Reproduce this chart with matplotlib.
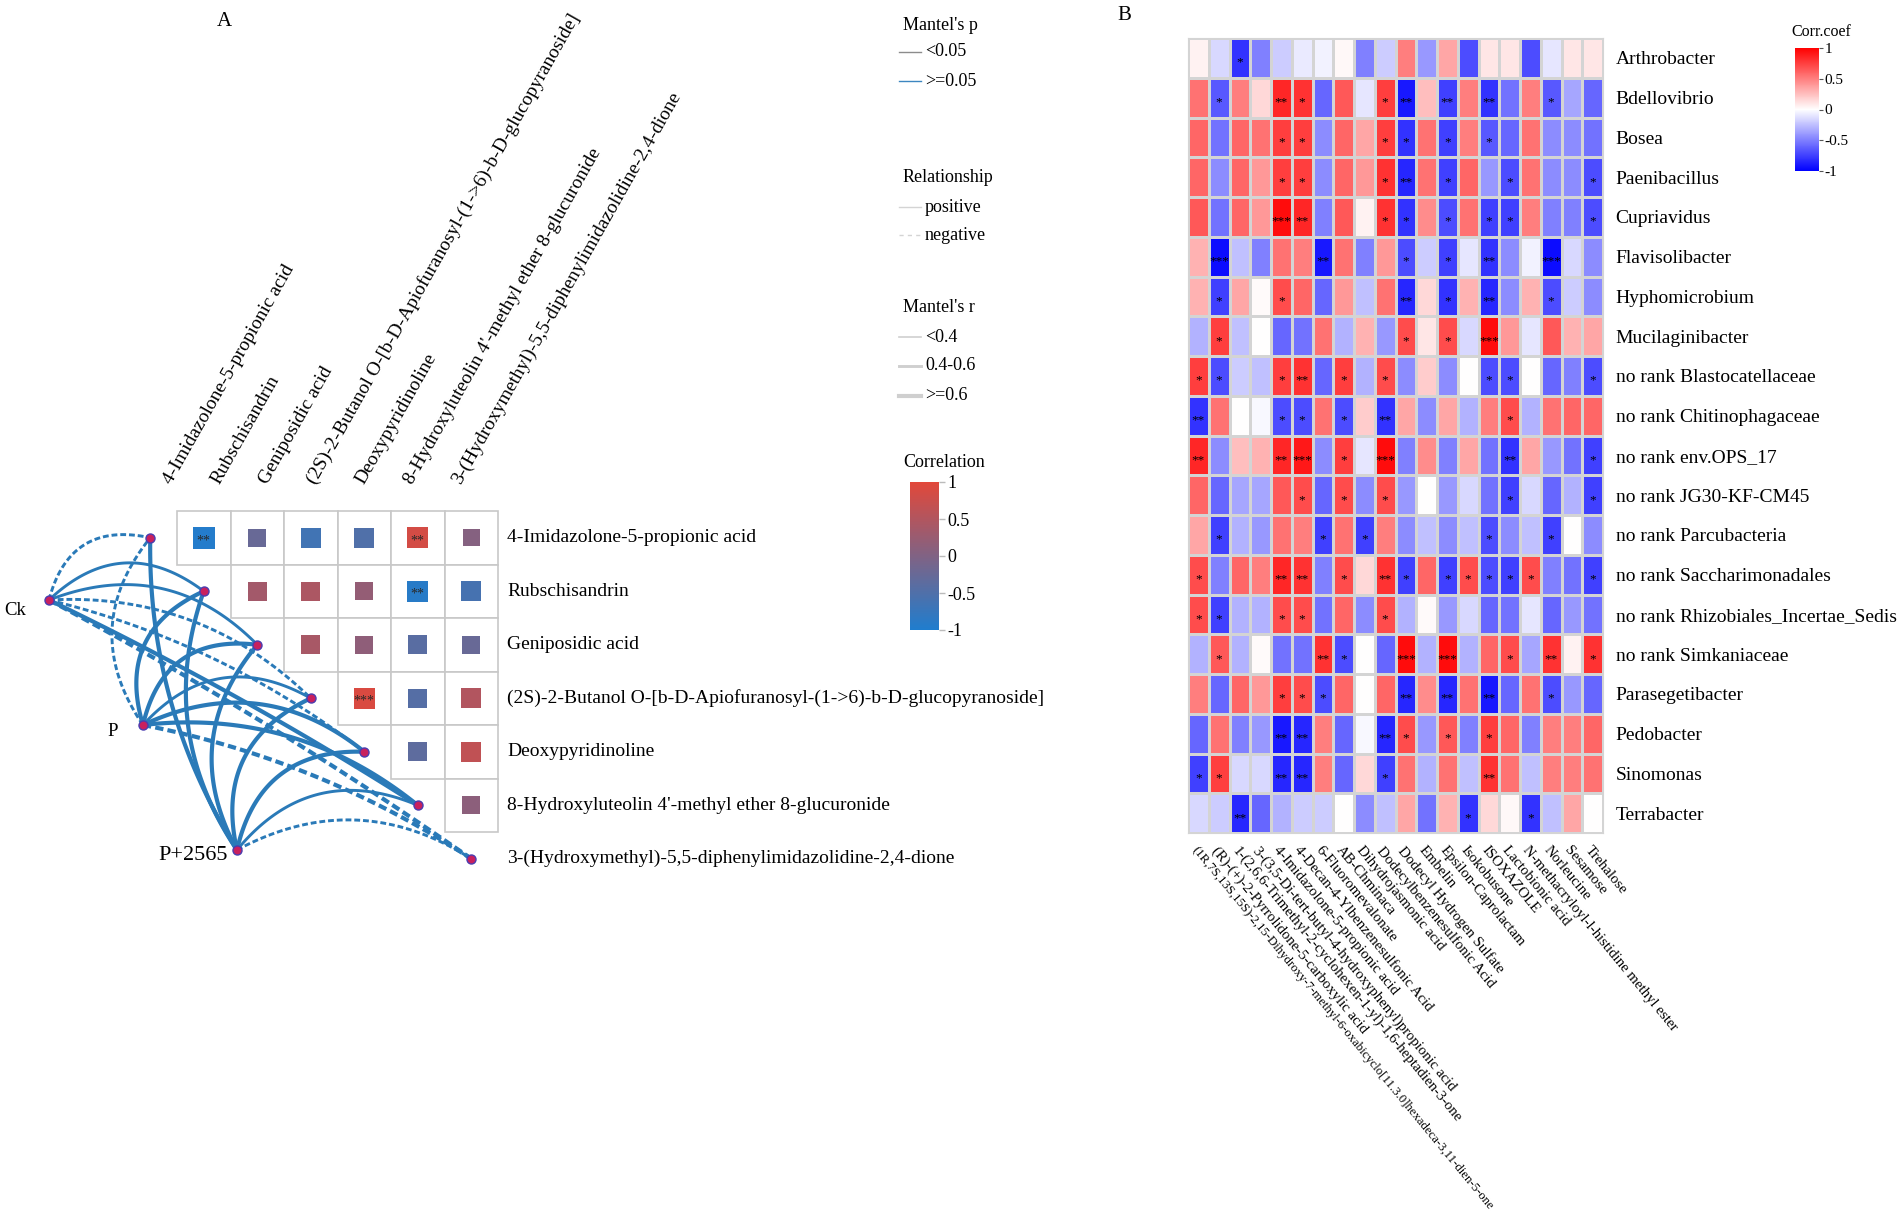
import numpy as np
import matplotlib
matplotlib.use('Agg')
import matplotlib.pyplot as plt
from matplotlib.colors import LinearSegmentedColormap, Normalize
from matplotlib.lines import Line2D
from matplotlib.patches import Rectangle
import matplotlib.colorbar as mcolorbar

plt.rcParams['font.family'] = ['Liberation Serif', 'DejaVu Serif']

# ---------------- Panel A data ----------------
compounds = ["4-Imidazolone-5-propionic acid", "Rubschisandrin", "Geniposidic acid",
             "(2S)-2-Butanol O-[b-D-Apiofuranosyl-(1->6)-b-D-glucopyranoside]",
             "Deoxypyridinoline", "8-Hydroxyluteolin 4'-methyl ether 8-glucuronide",
             "3-(Hydroxymethyl)-5,5-diphenylimidazolidine-2,4-dione"]
corr_a = [[-0.95, -0.25, -0.65, -0.5, 0.85, 0.05],
          [None, 0.35, 0.45, 0.2, -0.9, -0.6],
          [None, None, 0.4, 0.15, -0.4, -0.25],
          [None, None, None, 0.9, -0.45, 0.5],
          [None, None, None, None, -0.35, 0.65],
          [None, None, None, None, None, 0.12]]
sig_a = [["**", "", "", "", "**", ""],
         ["", "", "", "", "**", ""],
         ["", "", "", "", "", ""],
         ["", "", "", "***", "", ""],
         ["", "", "", "", "", ""],
         ["", "", "", "", "", ""]]
env = ["Ck", "P", "P+2565"]
mantel_r = [[0.45, 0.5, 0.45, 0.5, 0.5, 0.65, 0.6],
            [0.5, 0.65, 0.6, 0.55, 0.6, 0.7, 0.6],
            [0.65, 0.7, 0.7, 0.7, 0.7, 0.55, 0.45]]
relationship = [["negative", "positive", "positive", "negative", "negative", "positive", "negative"],
                ["negative", "positive", "positive", "positive", "positive", "positive", "negative"],
                ["positive", "positive", "positive", "positive", "positive", "positive", "negative"]]
mantel_p = [[">=0.05"] * 7, [">=0.05"] * 7, [">=0.05"] * 7]

# ---------------- Panel B data ----------------
genera = ["Arthrobacter", "Bdellovibrio", "Bosea", "Paenibacillus", "Cupriavidus",
          "Flavisolibacter", "Hyphomicrobium", "Mucilaginibacter", "no rank Blastocatellaceae",
          "no rank Chitinophagaceae", "no rank env.OPS_17", "no rank JG30-KF-CM45",
          "no rank Parcubacteria", "no rank Saccharimonadales", "no rank Rhizobiales_Incertae_Sedis",
          "no rank Simkaniaceae", "Parasegetibacter", "Pedobacter", "Sinomonas", "Terrabacter"]
metabolites = ["(1R,7S,13S,15S)-2,15-Dihydroxy-7-methyl-6-oxabicyclo[11.3.0]hexadeca-3,11-dien-5-one",
               "(R)-(+)-2-Pyrrolidone-5-carboxylic acid",
               "1-(2,6,6-Trimethyl-2-cyclohexen-1-yl)-1,6-heptadien-3-one",
               "3-(3,5-Di-tert-butyl-4-hydroxyphenyl)propionic acid",
               "4-Imidazolone-5-propionic acid", "4-Decan-4-Ylbenzenesulfonic Acid",
               "6-Fluoromevalonate", "AB-Chminaca", "Dihydrojasmonic acid",
               "Dodecylbenzenesulfonic Acid", "Dodecyl Hydrogen Sulfate", "Embelin",
               "Epsilon-Caprolactam", "Isokobusone", "ISOXAZOLE", "Lactobionic acid",
               "N-methacryloyl-l-histidine methyl ester", "Norleucine", "Sesamose", "Trehalose"]
corr_b = [
    [0.05, -0.15, -0.8, -0.5, -0.2, -0.08, -0.05, 0.03, -0.5, -0.2, 0.5, -0.4, 0.35, -0.7, 0.1, 0.1, -0.7, -0.1, 0.1, 0.1],
    [0.55, -0.65, 0.5, 0.15, 0.85, 0.8, -0.6, 0.65, -0.1, 0.75, -0.9, 0.25, -0.75, 0.5, -0.8, -0.55, 0.5, -0.65, -0.35, -0.6],
    [0.6, -0.55, 0.6, 0.55, 0.75, 0.75, -0.45, 0.6, 0.35, 0.75, -0.8, 0.55, -0.75, 0.5, -0.65, -0.6, 0.55, -0.45, -0.45, -0.55],
    [0.6, -0.45, 0.6, 0.4, 0.75, 0.75, -0.45, 0.6, 0.4, 0.8, -0.85, 0.55, -0.75, 0.6, -0.4, -0.7, 0.55, -0.45, -0.45, -0.7],
    [0.65, -0.55, 0.6, 0.4, 0.95, 0.85, -0.5, 0.65, 0.05, 0.8, -0.8, 0.45, -0.7, 0.55, -0.75, -0.75, 0.5, -0.5, -0.5, -0.7],
    [0.3, -0.95, -0.25, -0.5, 0.55, 0.5, -0.9, 0.55, -0.5, 0.4, -0.7, -0.2, -0.75, -0.1, -0.8, -0.45, -0.05, -0.95, -0.15, -0.45],
    [0.3, -0.75, 0.35, 0.02, 0.7, 0.6, -0.6, 0.4, -0.25, 0.55, -0.85, 0.15, -0.8, 0.3, -0.85, -0.45, 0.3, -0.7, -0.2, -0.45],
    [-0.3, 0.75, -0.25, 0.0, -0.6, -0.55, 0.55, -0.3, 0.3, -0.4, 0.7, 0.1, 0.7, -0.15, 0.95, 0.4, -0.1, 0.65, 0.3, 0.35],
    [0.75, -0.7, -0.2, -0.25, 0.75, 0.8, -0.6, 0.75, -0.3, 0.7, -0.45, 0.2, -0.45, 0.0, -0.7, -0.7, 0.0, -0.6, -0.5, -0.7],
    [-0.8, 0.55, 0.0, -0.03, -0.7, -0.7, 0.55, -0.7, 0.2, -0.8, 0.35, -0.45, 0.35, -0.3, 0.5, 0.7, -0.3, 0.55, 0.6, 0.6],
    [0.85, -0.45, 0.25, 0.3, 0.85, 0.9, -0.45, 0.75, -0.1, 0.95, -0.5, 0.45, -0.5, 0.35, -0.55, -0.8, 0.35, -0.4, -0.55, -0.75],
    [0.6, -0.6, -0.35, -0.35, 0.65, 0.7, -0.6, 0.7, -0.45, 0.7, -0.4, 0.0, -0.4, -0.15, -0.55, -0.75, -0.15, -0.6, -0.3, -0.75],
    [0.35, -0.75, -0.3, -0.4, 0.55, 0.5, -0.75, 0.55, -0.75, 0.5, -0.45, -0.25, -0.45, -0.25, -0.7, -0.45, -0.25, -0.75, 0.0, -0.45],
    [0.7, -0.5, 0.6, 0.5, 0.85, 0.8, -0.5, 0.7, 0.15, 0.8, -0.75, 0.6, -0.75, 0.7, -0.7, -0.75, 0.7, -0.5, -0.55, -0.75],
    [0.7, -0.75, -0.3, -0.3, 0.7, 0.7, -0.55, 0.6, -0.45, 0.7, -0.3, 0.02, -0.4, -0.15, -0.6, -0.55, -0.1, -0.6, -0.4, -0.55],
    [-0.3, 0.65, -0.3, 0.02, -0.55, -0.55, 0.8, -0.7, 0.0, -0.6, 0.95, -0.3, 0.95, -0.3, 0.6, 0.7, -0.35, 0.8, 0.05, 0.8],
    [0.5, -0.6, 0.6, 0.4, 0.75, 0.7, -0.7, 0.6, 0.0, 0.6, -0.85, 0.45, -0.85, 0.55, -0.9, -0.6, 0.55, -0.7, -0.4, -0.6],
    [-0.6, 0.55, -0.5, -0.4, -0.9, -0.85, 0.5, -0.6, -0.03, -0.85, 0.7, -0.4, 0.65, -0.5, 0.75, 0.6, -0.5, 0.5, 0.5, 0.6],
    [-0.75, 0.75, -0.15, -0.15, -0.85, -0.85, 0.5, -0.6, 0.15, -0.75, 0.55, -0.3, 0.55, -0.25, 0.8, 0.55, -0.25, 0.5, 0.5, 0.55],
    [-0.15, -0.2, -0.85, -0.6, -0.3, -0.2, -0.2, 0.0, -0.45, -0.25, 0.35, -0.55, 0.3, -0.8, 0.15, 0.03, -0.8, -0.25, 0.35, 0.0],
]
# number of asterisks per cell (0 = none)
sig_b = ["00100000000000000000",
         "01002100012020200100",
         "00001100011010100000",
         "00001100012010010001",
         "00003200011010110001",
         "03000020001010200300",
         "01001000002010200100",
         "01000000001010300000",
         "11001201010000110001",
         "20001101020000010000",
         "20002301030000020001",
         "00000101010000010001",
         "01000010100000100100",
         "10002201021011111001",
         "11001100010000000000",
         "01000021003030010201",
         "00001110002020200100",
         "00002200021010100000",
         "11002200010000200000",
         "00200000000001001000"]

# ---------------- figure ----------------
W, H = 1902, 1220
fig = plt.figure(figsize=(W / 100, H / 100), dpi=100)


def rect(x0, y0, x1, y1):
    return [x0 / W, 1 - y1 / H, (x1 - x0) / W, (y1 - y0) / H]


def fx(x):
    return x / W


def fy(y):
    return 1 - y / H


# ---------- Panel A ----------
CELL, GX, GY = 53.5, 177.0, 511.0
axA = fig.add_axes([0, 0, 880 / W, 1])
axA.set_xlim((0 - GX) / CELL, (880 - GX) / CELL)
axA.set_ylim((H - GY) / CELL, (0 - GY) / CELL)
axA.axis('off')

cmapA = LinearSegmentedColormap.from_list('ba', ['#1F7DCE', '#E2483A'])
normA = Normalize(-1, 1)
n = len(corr_a)
for i in range(n):
    for j in range(n):
        r = corr_a[i][j]
        if r is None:
            continue
        axA.add_patch(Rectangle((j, i), 1, 1, fc='white', ec='#c8c8c8', lw=1.2, zorder=1))
        s = 0.318 + 0.093 * abs(r)
        axA.add_patch(Rectangle((j + 0.5 - s / 2, i + 0.5 - s / 2), s, s,
                                fc=cmapA(normA(r)), ec='none', zorder=2))
        if sig_a[i][j]:
            axA.text(j + 0.5, i + 0.56, sig_a[i][j], ha='center', va='center',
                     fontsize=10, color='#2a2a2a', zorder=3)

# labels
for k, name in enumerate(compounds):
    axA.text(-0.04 + 0.9 * k, -0.45, name, rotation=60.5, ha='left', va='bottom',
             rotation_mode='anchor', fontsize=14)
    axA.text(6.17, k + 0.5, name, ha='left', va='center', fontsize=14)

# network
env_x = np.linspace(-2.393, 1.121, len(env))
env_y = np.linspace(1.664, 6.336, len(env))
comp_x = np.arange(len(compounds)) - 0.5
comp_y = np.arange(len(compounds)) + 0.5
line_blue = '#2A7AB8'
t = np.linspace(0, 1, 80)


def r_width(r):
    if r < 0.4:
        return 1.2
    elif r < 0.6:
        return 2.1
    return 3.0


for e in range(len(env)):
    for k in range(len(compounds)):
        A = np.array([env_x[e], -env_y[e]])
        B = np.array([comp_x[k], -comp_y[k]])
        d = B - A
        L = np.hypot(*d) * CELL
        rad = np.clip(0.48 - 0.00162 * (L - 119), 0.03, 0.5)
        C = (A + B) / 2 + rad * np.array([-d[1], d[0]])
        pts = ((1 - t) ** 2)[:, None] * A + (2 * t * (1 - t))[:, None] * C + (t ** 2)[:, None] * B
        col = line_blue if mantel_p[e][k] == ">=0.05" else '#8c8c8c'
        ls = '-' if relationship[e][k] == 'positive' else (0, (2.0, 1.0))
        axA.plot(pts[:, 0], -pts[:, 1], color=col, lw=r_width(mantel_r[e][k]), ls=ls,
                 solid_capstyle='round', zorder=3)

node_kw = dict(marker='o', ms=6.5, mfc='#C8205E', mec='#4A3CB0', mew=1.0, ls='none', zorder=5)
axA.plot(env_x, env_y, **node_kw)
axA.plot(comp_x, comp_y, **node_kw)
env_fs = [13.5, 13.5, 16]
env_dx = [-0.42, -0.47, -0.17]
env_dy = [0.19, 0.13, 0.10]
for e, name in enumerate(env):
    axA.text(env_x[e] + env_dx[e], env_y[e] + env_dy[e], name, ha='right', va='center',
             fontsize=env_fs[e])

fig.text(fx(224), fy(22), 'A', fontsize=15, ha='center', va='center')


# legend panel A
def fig_line(x0, x1, y, color, lw, ls='-'):
    fig.add_artist(Line2D([fx(x0), fx(x1)], [fy(y), fy(y)], color=color, lw=lw, ls=ls,
                          transform=fig.transFigure))


def fig_text(x, y, s, **kw):
    fig.text(fx(x), fy(y), s, va='center', fontsize=13, **kw)


LX0, LX1, TX = 899, 921, 925
fig_text(903, 25, "Mantel's p")
fig_line(LX0, LX1, 52, '#8c8c8c', 1.0)
fig_text(TX, 52, "<0.05")
fig_line(LX0, LX1, 81, '#3C86C0', 1.0)
fig_text(TX, 81, ">=0.05")
fig_text(903, 178, "Relationship")
fig_line(LX0, LX1, 207, '#d4d4d4', 1.0)
fig_text(TX, 207, "positive")
fig_line(LX0, LX1, 235, '#d4d4d4', 1.0, ls=(0, (3, 3)))
fig_text(TX, 235, "negative")
fig_text(903, 308, "Mantel's r")
for yy, lab, rv in [(337, "<0.4", 0.3), (366, "0.4-0.6", 0.5), (396, ">=0.6", 0.7)]:
    fig_line(LX0, LX1, yy, '#cfcfcf', r_width(rv))
    fig_text(TX, yy, lab)
fig_text(903, 463, "Correlation")
caxA = fig.add_axes(rect(910, 482, 939, 630))
cbA = mcolorbar.ColorbarBase(caxA, cmap=cmapA, norm=normA, ticks=[-1, -0.5, 0, 0.5, 1])
cbA.outline.set_visible(False)
cbA.ax.set_yticklabels(['-1', '-0.5', '0', '0.5', '1'])
cbA.ax.tick_params(length=4, width=1, color='#bbbbbb', labelsize=13, pad=2)

# ---------- Panel B ----------
axB = fig.add_axes(rect(1188, 38, 1603, 833))
cmapB = LinearSegmentedColormap.from_list('bwr2', ['#0000FF', '#FFFFFF', '#FF0000'])
vals = np.array(corr_b)
axB.pcolormesh(np.arange(vals.shape[1] + 1), np.arange(vals.shape[0] + 1), vals,
               cmap=cmapB, vmin=-1, vmax=1, edgecolors='#d4d4d4', linewidth=1.0)
axB.set_xlim(0, vals.shape[1])
axB.set_ylim(vals.shape[0], 0)
for sp in axB.spines.values():
    sp.set_color('#d4d4d4')
axB.yaxis.tick_right()
axB.set_yticks(np.arange(len(genera)) + 0.5)
axB.set_yticklabels(genera, fontsize=14)
axB.set_xticks(np.arange(len(metabolites)) + 0.5)
axB.set_xticklabels(metabolites, rotation=-50.5, ha='left', rotation_mode='anchor', fontsize=10.6)
axB.tick_params(axis='y', length=0, pad=9)
axB.tick_params(axis='x', length=0, pad=8)
for i, row in enumerate(sig_b):
    for j, c in enumerate(row):
        if c != '0':
            axB.text(j + 0.5, i + 0.62, '*' * int(c), ha='center', va='center', fontsize=9.5,
                     color='black')

fig.text(fx(1124), fy(15), 'B', fontsize=15, ha='center', va='center')
fig.text(fx(1821), fy(32), 'Corr.coef', fontsize=11.5, ha='center', va='center')
caxB = fig.add_axes(rect(1795, 48, 1819, 171))
cbB = mcolorbar.ColorbarBase(caxB, cmap=cmapB, norm=Normalize(-1, 1), ticks=[-1, -0.5, 0, 0.5, 1])
cbB.outline.set_visible(False)
cbB.ax.set_yticklabels(['-1', '-0.5', '0', '0.5', '1'])
cbB.ax.tick_params(length=3, width=0.8, color='#555555', labelsize=11, pad=1)

# shrink any x label that would run off the bottom edge
fig.canvas.draw()
renderer = fig.canvas.get_renderer()
for lab in axB.get_xticklabels():
    fs = lab.get_fontsize()
    bb = lab.get_window_extent(renderer)
    while bb.y0 < 6 and fs > 6:
        fs -= 0.2
        lab.set_fontsize(fs)
        bb = lab.get_window_extent(renderer)

fig.savefig('out.png', dpi=100)
